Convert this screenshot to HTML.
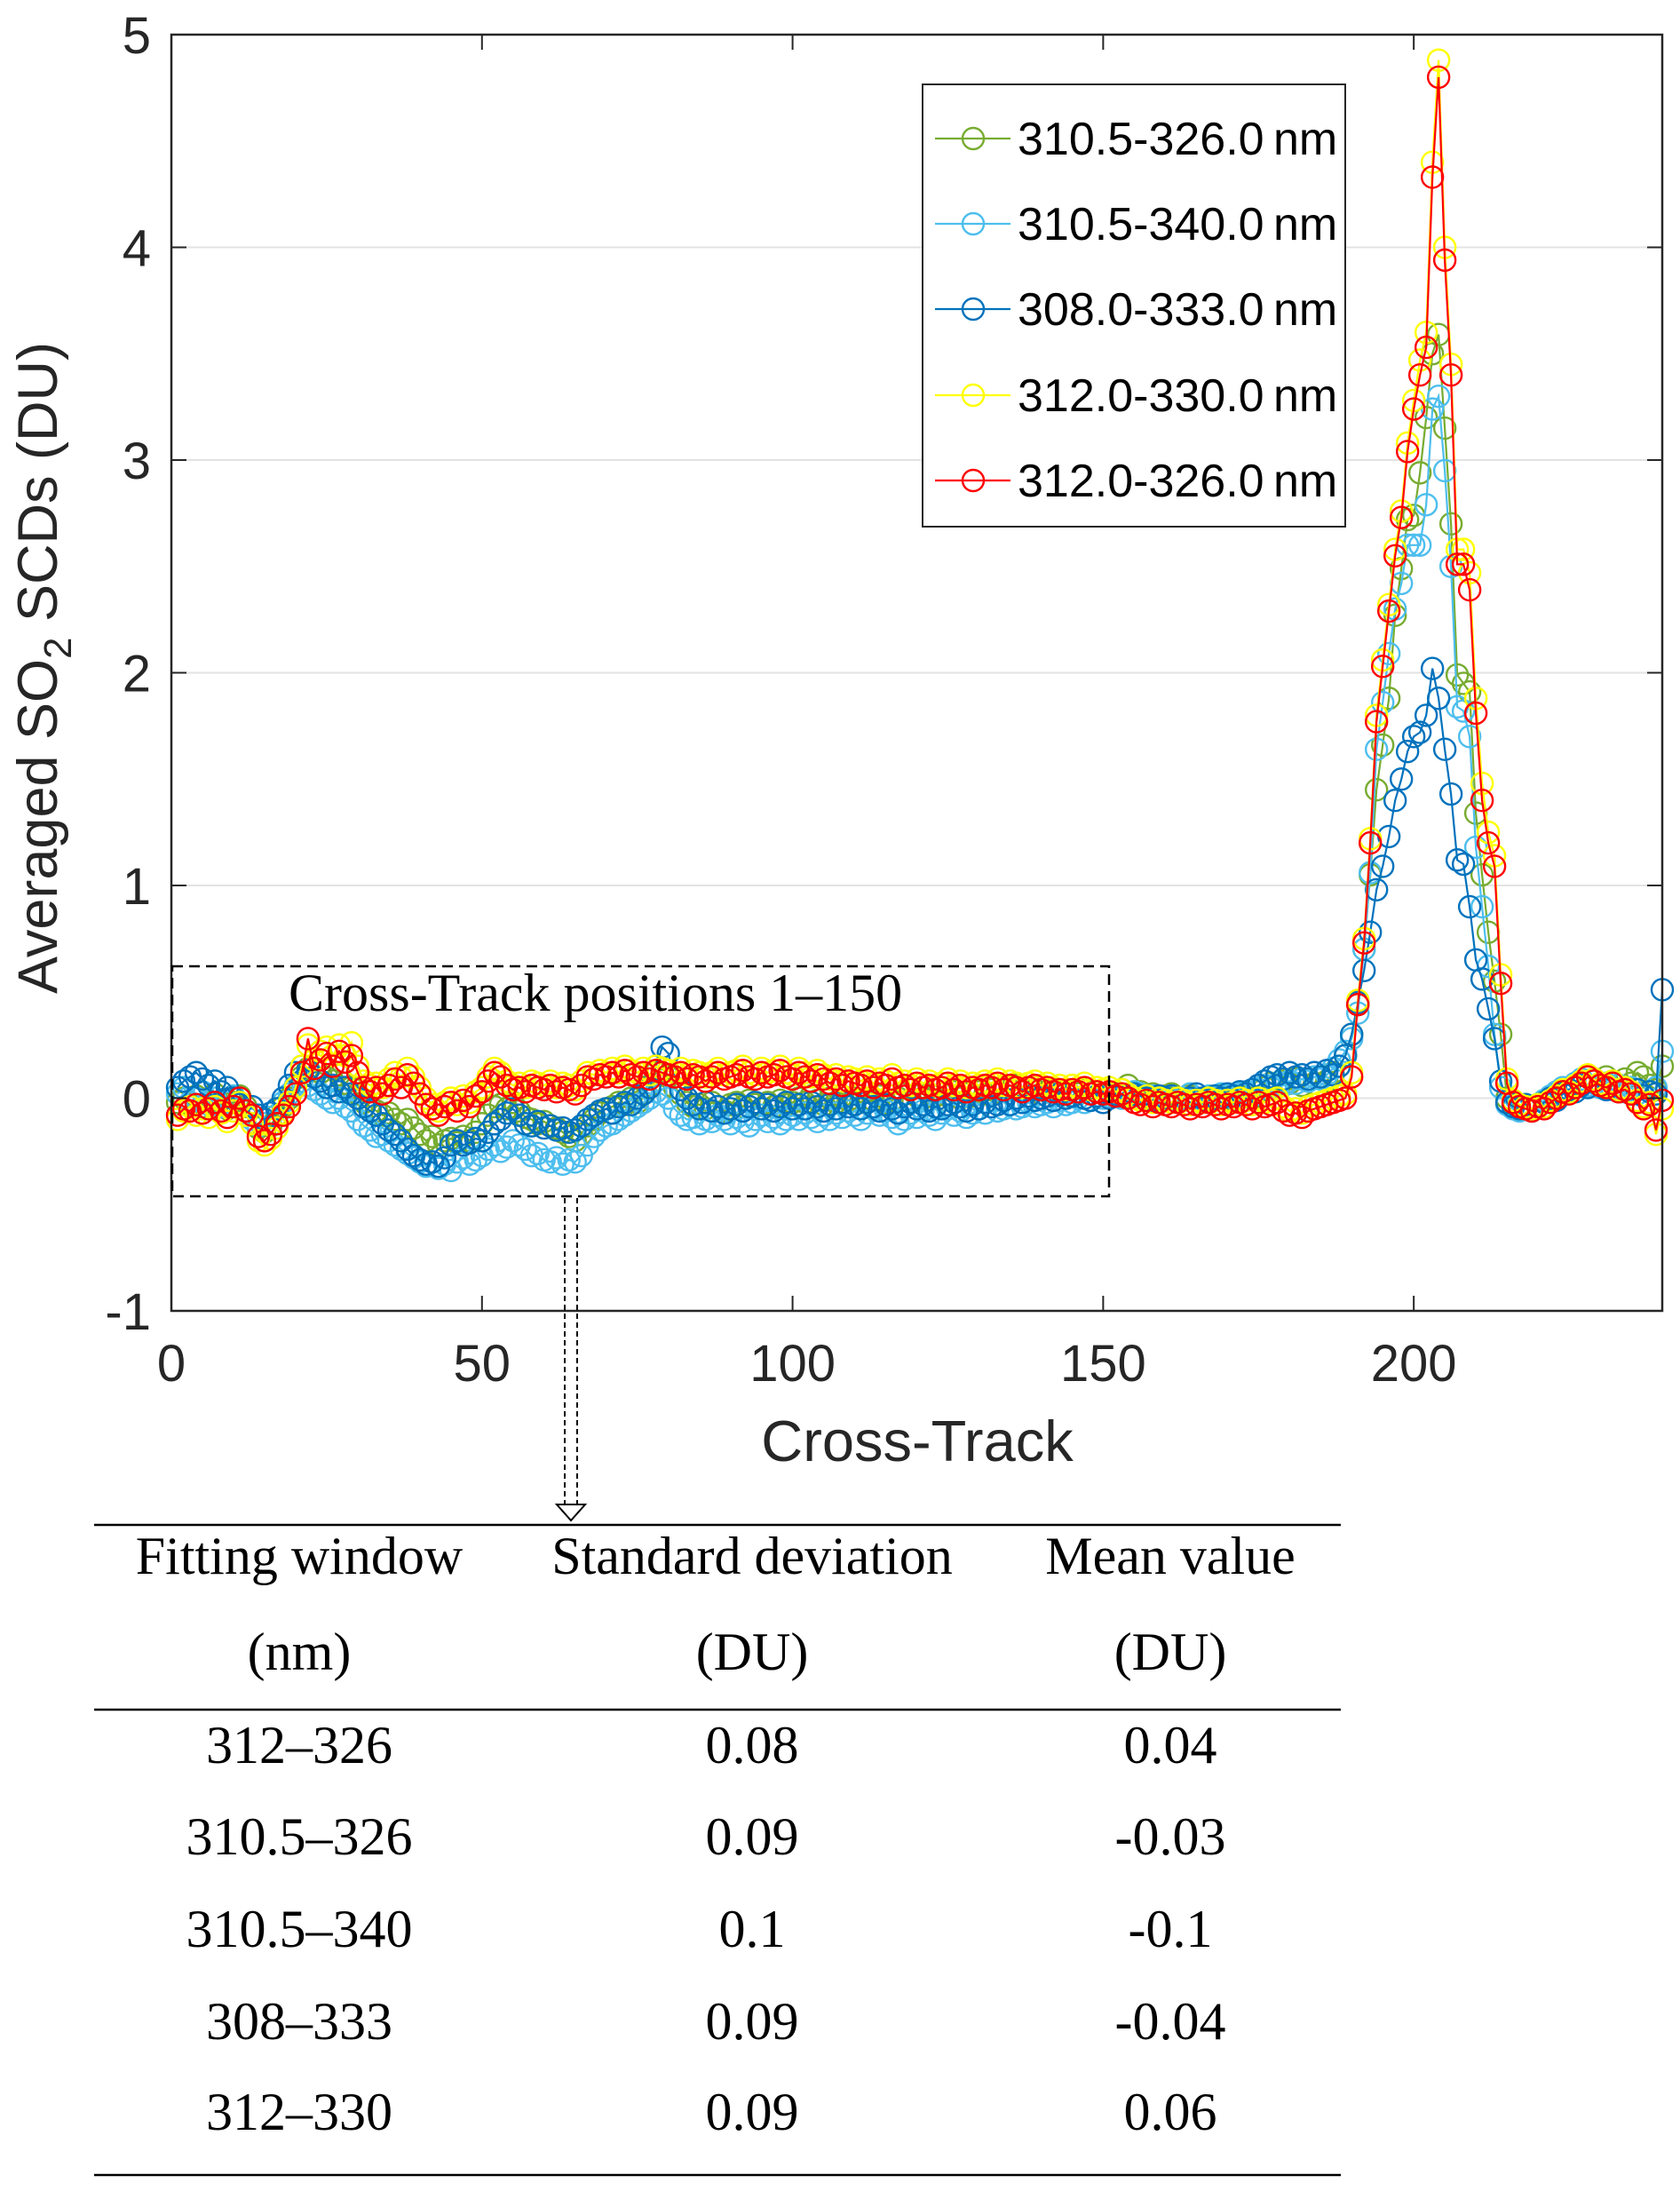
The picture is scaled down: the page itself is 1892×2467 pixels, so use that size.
<!DOCTYPE html>
<html><head><meta charset="utf-8"><style>
html,body{margin:0;padding:0;background:#fff;}
svg{display:block;}
</style></head><body>
<svg id="chart" width="1892" height="2467" viewBox="0 0 1892 2467" xmlns="http://www.w3.org/2000/svg">
<g id="grid"></g>
<g id="series"></g>
<g id="axes"></g>
<text transform="translate(64,752) rotate(-90)" text-anchor="middle" font-family="Liberation Sans, sans-serif" font-size="63" fill="#262626">Averaged SO<tspan font-size="44" dy="16">2</tspan><tspan dy="-16"> SCDs (DU)</tspan></text>
<text x="1033" y="1645" text-anchor="middle" font-family="Liberation Sans, sans-serif" font-size="65" fill="#262626">Cross-Track</text>
<g id="legend"></g>
<rect x="194" y="1088" width="1055" height="259" fill="none" stroke="#000" stroke-width="2.5" stroke-dasharray="12,7"/>
<text x="325" y="1138" font-family="Liberation Serif, serif" font-size="60" fill="#000">Cross-Track positions 1–150</text>
<g stroke="#000" stroke-width="2" fill="none">
<line x1="636" y1="1349" x2="636" y2="1694" stroke-dasharray="6,4"/>
<line x1="650" y1="1349" x2="650" y2="1694" stroke-dasharray="6,4"/>
<polygon points="627,1694 659,1694 643,1712" fill="#fff"/>
</g>
<g id="table" font-family="Liberation Serif, serif" font-size="60" fill="#000" text-anchor="middle"></g>
</svg>
<script>
const xTicks=[0,50,100,150,200];
const yTicks=[-1,0,1,2,3,4,5];
const seriesNames=["310.5-326.0\u2009nm","310.5-340.0\u2009nm","308.0-333.0\u2009nm","312.0-330.0\u2009nm","312.0-326.0\u2009nm"];
const seriesColors=["#77AC30","#4DBEEE","#0072BD","#FFFF00","#FF0000"];
const green=[-0.02,0,-0.03,0.01,-0.04,-0.02,0.02,-0.03,-0.05,-0.02,
0.01,-0.04,-0.08,-0.14,-0.16,-0.13,-0.08,-0.04,0,0.05,
0.1,0.14,0.1,0.12,0.1,0.08,0.11,0.07,0.05,0.02,
-0.02,-0.04,-0.06,-0.08,-0.07,-0.1,-0.12,-0.1,-0.14,-0.17,
-0.2,-0.18,-0.22,-0.2,-0.19,-0.21,-0.18,-0.2,-0.16,-0.12,
-0.08,-0.04,-0.03,-0.05,-0.02,-0.06,-0.09,-0.1,-0.12,-0.11,
-0.13,-0.14,-0.16,-0.18,-0.2,-0.17,-0.13,-0.1,-0.07,-0.05,
-0.04,-0.02,-0.03,0,-0.02,0.03,0.06,0.12,0.14,0.1,
0.05,0.02,-0.02,-0.04,-0.03,-0.05,-0.02,-0.04,-0.06,-0.03,
-0.02,-0.04,-0.01,-0.03,-0.05,-0.02,-0.04,-0.01,-0.03,-0.02,
0,-0.02,0.01,-0.01,-0.03,0,-0.02,0.01,-0.01,0,
-0.02,0,-0.01,0.01,-0.02,-0.01,0,0.02,-0.01,0.01,
0,0.02,0.01,-0.01,0.01,0.03,0,0.02,0.01,0.03,
0.02,0.04,0.03,0.05,0.04,0.06,0.03,0.05,0.04,0.02,
0.03,0.04,0.02,0.03,0.01,0.02,0.04,0.02,0.01,0.02,
0.02,0.03,0.04,0.06,0.02,0.03,0.01,0.02,0,0.01,
0.02,0,-0.01,0.01,0,-0.02,0,-0.01,0.01,0,
-0.01,0.01,0.02,0,0.03,0.05,0.07,0.06,0.08,0.07,
0.09,0.06,0.08,0.07,0.1,0.08,0.12,0.15,0.2,0.3,
0.44,0.7,1.05,1.45,1.66,1.88,2.27,2.49,2.72,2.74,
2.94,3.2,3.5,3.59,3.15,2.7,1.99,1.95,1.91,1.34,
1.05,0.78,0.55,0.3,0,-0.03,-0.05,-0.04,-0.06,-0.03,
-0.02,0,0.02,0.04,0.03,0.06,0.08,0.1,0.09,0.07,
0.1,0.08,0.06,0.09,0.07,0.12,0.1,0.06,0.04,0.15];
const lightBlue=[0.02,0.05,-0.02,0,0.03,-0.03,0,-0.04,-0.02,0.01,
-0.03,-0.06,-0.1,-0.13,-0.12,-0.09,-0.05,-0.02,0.02,0.06,
0.08,0.06,0.04,0.02,0,-0.02,0,-0.04,-0.06,-0.1,
-0.13,-0.15,-0.18,-0.17,-0.2,-0.22,-0.24,-0.26,-0.28,-0.3,
-0.32,-0.3,-0.33,-0.31,-0.34,-0.3,-0.28,-0.31,-0.29,-0.27,
-0.24,-0.22,-0.25,-0.23,-0.2,-0.22,-0.24,-0.27,-0.26,-0.29,
-0.3,-0.28,-0.31,-0.29,-0.3,-0.27,-0.22,-0.18,-0.15,-0.13,
-0.12,-0.1,-0.08,-0.06,-0.04,-0.02,0,0.03,0.02,0,
-0.05,-0.08,-0.1,-0.09,-0.12,-0.1,-0.11,-0.08,-0.1,-0.12,
-0.09,-0.11,-0.13,-0.1,-0.08,-0.11,-0.09,-0.12,-0.1,-0.08,
-0.1,-0.07,-0.09,-0.11,-0.08,-0.1,-0.07,-0.09,-0.06,-0.08,
-0.1,-0.07,-0.05,-0.08,-0.06,-0.09,-0.12,-0.1,-0.07,-0.09,
-0.06,-0.08,-0.1,-0.07,-0.05,-0.08,-0.06,-0.09,-0.07,-0.05,
-0.07,-0.04,-0.06,-0.05,-0.03,-0.05,-0.04,-0.02,-0.04,-0.03,
-0.02,-0.04,-0.01,-0.03,-0.02,0,-0.02,-0.01,0.01,0,
0.01,0.02,0,0.01,0.03,0.02,0,0.01,-0.01,0,
0.01,-0.01,0,0.02,0,-0.01,0.01,0,0.02,0.01,
0,0.02,0.03,0.01,0.04,0.06,0.05,0.07,0.06,0.08,
0.07,0.09,0.08,0.1,0.09,0.11,0.14,0.18,0.22,0.28,
0.4,0.7,1.06,1.64,1.86,2.09,2.3,2.42,2.6,2.6,
2.6,2.79,3.24,3.3,2.95,2.5,1.84,1.82,1.7,1.18,
0.9,0.62,0.3,0.05,-0.03,-0.05,-0.06,-0.04,-0.05,-0.03,
-0.01,0.01,0.03,0.05,0.04,0.07,0.09,0.06,0.08,0.05,
0.07,0.04,0.06,0.03,0.05,0.02,0.01,0.03,0.05,0.22];
const darkBlue=[0.05,0.08,0.1,0.12,0.09,0.06,0.08,0.03,0.05,0,
-0.03,-0.06,-0.04,-0.08,-0.1,-0.07,-0.05,0,0.06,0.12,
0.15,0.13,0.1,0.08,0.05,0.06,0.03,0.05,0.02,0,
-0.04,-0.06,-0.08,-0.12,-0.15,-0.17,-0.2,-0.24,-0.27,-0.29,
-0.31,-0.3,-0.32,-0.28,-0.22,-0.2,-0.22,-0.21,-0.19,-0.2,
-0.16,-0.12,-0.1,-0.07,-0.05,-0.08,-0.12,-0.13,-0.11,-0.14,
-0.13,-0.15,-0.14,-0.16,-0.15,-0.13,-0.1,-0.08,-0.06,-0.05,
-0.07,-0.04,-0.02,-0.03,0,0.02,0.05,0.15,0.24,0.21,
0.1,0.04,0,-0.03,-0.05,-0.02,-0.06,-0.04,-0.07,-0.05,
-0.03,-0.06,-0.04,-0.02,-0.05,-0.03,-0.06,-0.04,-0.02,-0.05,
-0.03,-0.05,-0.02,-0.04,-0.06,-0.03,-0.05,-0.02,-0.04,-0.03,
-0.05,-0.02,-0.04,-0.06,-0.03,-0.05,-0.07,-0.04,-0.02,-0.05,
-0.03,-0.06,-0.04,-0.05,-0.03,-0.02,-0.04,-0.06,-0.03,-0.05,
-0.02,-0.04,-0.03,-0.01,-0.03,0,-0.02,0.01,-0.01,0,
0.01,-0.01,0.02,0,0.01,0.03,0,-0.01,0.01,-0.02,
0,0.02,0.01,0,0.02,0.01,0,-0.01,0.01,0,
0.01,0,-0.01,0,0.02,0,-0.01,0.01,0,0.02,
0.01,0.03,0.02,0.04,0.06,0.08,0.1,0.11,0.09,0.12,
0.1,0.11,0.09,0.12,0.1,0.13,0.11,0.15,0.2,0.3,
0.45,0.6,0.78,0.98,1.09,1.23,1.4,1.5,1.63,1.7,
1.72,1.8,2.02,1.88,1.64,1.43,1.12,1.1,0.9,0.65,
0.56,0.42,0.28,0.08,-0.02,-0.04,-0.05,-0.03,-0.06,-0.04,
-0.02,0,-0.01,0.02,0.04,0.03,0.06,0.05,0.08,0.06,
0.04,0.07,0.03,0.05,0.02,0.04,0.01,0.03,0.02,0.51];
const yellow=[-0.1,-0.06,-0.04,-0.08,-0.05,-0.09,-0.04,-0.07,-0.11,-0.06,
-0.02,-0.08,-0.12,-0.2,-0.22,-0.19,-0.14,-0.07,-0.02,0.05,
0.15,0.25,0.18,0.22,0.24,0.2,0.25,0.2,0.26,0.15,
0.08,0.06,0.07,0.05,0.09,0.12,0.1,0.14,0.1,0.05,
0,-0.03,-0.06,-0.02,0,-0.03,0.01,-0.02,0.03,0.05,
0.1,0.14,0.12,0.08,0.06,0.07,0.05,0.08,0.07,0.06,
0.08,0.05,0.07,0.06,0.04,0.08,0.12,0.11,0.13,0.12,
0.14,0.12,0.15,0.13,0.12,0.14,0.11,0.15,0.14,0.13,
0.12,0.14,0.11,0.13,0.12,0.1,0.12,0.14,0.11,0.12,
0.13,0.15,0.12,0.11,0.14,0.12,0.13,0.15,0.12,0.11,
0.14,0.12,0.1,0.13,0.11,0.09,0.11,0.08,0.1,0.09,
0.08,0.1,0.07,0.09,0.08,0.11,0.07,0.08,0.06,0.09,
0.07,0.08,0.06,0.07,0.09,0.06,0.08,0.05,0.07,0.06,
0.08,0.07,0.09,0.06,0.08,0.07,0.05,0.07,0.08,0.06,
0.07,0.05,0.06,0.04,0.06,0.05,0.07,0.04,0.05,0.04,
0.05,0.03,0.04,0.02,0,-0.01,0.01,-0.02,0,-0.01,
-0.02,0,-0.01,-0.03,-0.01,-0.02,0,-0.01,-0.03,-0.01,
-0.02,0,-0.01,-0.03,0,-0.02,-0.01,0,-0.04,-0.06,
-0.05,-0.07,-0.04,-0.03,-0.02,-0.01,0,0.01,0.02,0.12,
0.46,0.75,1.22,1.8,2.06,2.32,2.58,2.76,3.08,3.28,
3.47,3.6,4.4,4.88,4.0,3.45,2.58,2.58,2.47,1.88,
1.48,1.25,1.14,0.58,0.09,-0.01,-0.03,-0.04,-0.05,-0.03,
-0.04,-0.01,0.01,0.04,0.03,0.06,0.08,0.11,0.09,0.07,
0.06,0.08,0.04,0.05,0.03,-0.01,-0.04,-0.02,-0.17,-0.05];
const red=[-0.08,-0.05,-0.06,-0.03,-0.07,-0.05,-0.02,-0.06,-0.09,-0.04,
0,-0.06,-0.08,-0.18,-0.2,-0.17,-0.12,-0.08,-0.04,0.02,
0.12,0.28,0.14,0.18,0.21,0.15,0.22,0.17,0.2,0.12,
0.05,0.03,0.05,0.02,0.06,0.09,0.05,0.11,0.07,0.02,
-0.03,-0.05,-0.08,-0.04,-0.02,-0.06,-0.01,-0.04,0.01,0.03,
0.08,0.12,0.1,0.06,0.04,0.05,0.03,0.06,0.05,0.04,
0.06,0.03,0.05,0.04,0.02,0.06,0.1,0.09,0.11,0.1,
0.12,0.1,0.13,0.11,0.1,0.12,0.09,0.13,0.12,0.11,
0.1,0.12,0.09,0.11,0.1,0.08,0.1,0.12,0.09,0.1,
0.11,0.13,0.1,0.09,0.12,0.1,0.11,0.13,0.1,0.09,
0.12,0.1,0.08,0.11,0.09,0.07,0.09,0.06,0.08,0.07,
0.06,0.08,0.05,0.07,0.06,0.09,0.05,0.06,0.04,0.07,
0.05,0.06,0.04,0.05,0.07,0.04,0.06,0.03,0.05,0.04,
0.06,0.05,0.07,0.04,0.06,0.05,0.03,0.05,0.06,0.04,
0.05,0.03,0.04,0.02,0.04,0.03,0.05,0.02,0.03,0.02,
0.03,0.01,0.02,0,-0.02,-0.03,-0.01,-0.04,-0.02,-0.03,
-0.04,-0.02,-0.03,-0.05,-0.03,-0.04,-0.02,-0.03,-0.05,-0.03,
-0.04,-0.02,-0.03,-0.05,-0.02,-0.04,-0.03,-0.02,-0.06,-0.08,
-0.07,-0.09,-0.06,-0.05,-0.04,-0.03,-0.02,-0.01,0,0.1,
0.44,0.73,1.2,1.77,2.03,2.29,2.55,2.73,3.04,3.24,
3.4,3.53,4.33,4.8,3.94,3.4,2.51,2.51,2.39,1.81,
1.4,1.2,1.09,0.54,0.07,-0.02,-0.04,-0.05,-0.06,-0.04,
-0.05,-0.02,0,0.03,0.02,0.05,0.07,0.1,0.08,0.06,
0.05,0.07,0.03,0.04,0.02,-0.02,-0.05,-0.03,-0.15,-0.01];
const tableHeader1=["Fitting window","Standard deviation","Mean value"];
const tableHeader2=["(nm)","(DU)","(DU)"];
const tableWindows=["312–326","310.5–326","310.5–340","308–333","312–330"];
const tableStd=["0.08","0.09","0.1","0.09","0.09"];
const tableMean=["0.04","-0.03","-0.1","-0.04","0.06"];

const NS="http://www.w3.org/2000/svg";
const L=193,R=1872,T=39,B=1476,XMIN=0,XMAX=240,YMIN=-1,YMAX=5;
function sx(v){return L+(v-XMIN)/(XMAX-XMIN)*(R-L);}
function sy(v){return B-(v-YMIN)/(YMAX-YMIN)*(B-T);}
function mk(tag,attrs,parent){const e=document.createElementNS(NS,tag);for(const k in attrs)e.setAttribute(k,attrs[k]);parent.appendChild(e);return e;}
const grid=document.getElementById('grid'),axes=document.getElementById('axes'),ser=document.getElementById('series'),leg=document.getElementById('legend'),tbl=document.getElementById('table');
yTicks.forEach(v=>{
  if(v>YMIN&&v<YMAX){const g=mk('line',{x1:L,x2:R,y1:sy(v),y2:sy(v),stroke:'#e3e3e3','stroke-width':2},grid);
  
  }
  const t1=mk('line',{x1:L,x2:L+17,y1:sy(v),y2:sy(v),stroke:'#262626','stroke-width':2},axes);
  
  
  const t2=mk('line',{x1:R-17,x2:R,y1:sy(v),y2:sy(v),stroke:'#262626','stroke-width':2},axes);
  
  
  const lb=mk('text',{x:170,y:sy(v)+21,'text-anchor':'end','font-family':'Liberation Sans, sans-serif','font-size':58,fill:'#262626'},axes);
  lb.textContent=String(v);
  
  
});
xTicks.forEach(v=>{
  const t1=mk('line',{x1:sx(v),x2:sx(v),y1:B,y2:B-17,stroke:'#262626','stroke-width':2},axes);
  
  
  const t2=mk('line',{x1:sx(v),x2:sx(v),y1:T,y2:T+17,stroke:'#262626','stroke-width':2},axes);
  
  
  const lb=mk('text',{x:sx(v),y:1555,'text-anchor':'middle','font-family':'Liberation Sans, sans-serif','font-size':58,fill:'#262626'},axes);
  lb.textContent=String(v);
  
  
});
const frame=mk('rect',{x:L,y:T,width:R-L,height:B-T,fill:'none',stroke:'#262626','stroke-width':2.5},axes);


const allSeries=[green,lightBlue,darkBlue,yellow,red];
allSeries.forEach((arr,si)=>{
  const g=mk('g',{},ser);
  
  
  const pts=arr.map((v,i)=>sx(i+1).toFixed(1)+','+sy(v).toFixed(1)).join(' ');
  const pl=mk('polyline',{points:pts,fill:'none',stroke:seriesColors[si],'stroke-width':2.2},g);
  
  
  arr.forEach((v,i)=>{
    const c=mk('circle',{cx:sx(i+1),cy:sy(v),r:12,fill:'none',stroke:seriesColors[si],'stroke-width':2.4},g);
    
    
  });
});
const lb=mk('rect',{x:1039,y:95,width:476,height:498,fill:'#fff',stroke:'#262626','stroke-width':2},leg);


const legY=[156,252,348,445,541];
seriesNames.forEach((n,i)=>{
  const g=mk('g',{},leg);
  
  
  mk('line',{x1:1053,x2:1138,y1:legY[i],y2:legY[i],stroke:seriesColors[i],'stroke-width':2.2},g);
  mk('circle',{cx:1096,cy:legY[i],r:12,fill:'none',stroke:seriesColors[i],'stroke-width':2.4},g);
  const t=mk('text',{x:1146,y:legY[i]+18,'font-family':'Liberation Sans, sans-serif','font-size':52,fill:'#000'},g);
  t.textContent=n;
});
[[1717],[1925],[2449]].forEach(([y])=>{
  const l=mk('line',{x1:106,x2:1510,y1:y,y2:y,stroke:'#000','stroke-width':2.5},tbl);
  
  
});
const colX=[337,847,1318];
function cell(txt,x,y,name){const t=mk('text',{x:x,y:y},tbl);t.textContent=txt;
  
  }
tableHeader1.forEach((h,i)=>cell(h,colX[i],1772,'table-header'));
tableHeader2.forEach((h,i)=>cell(h,colX[i],1880,'table-header-unit'));
const rowY=[1985,2088,2192,2296,2398];
tableWindows.forEach((w,i)=>{cell(w,colX[0],rowY[i],'table-cell-window');cell(tableStd[i],colX[1],rowY[i],'table-cell-std');cell(tableMean[i],colX[2],rowY[i],'table-cell-mean');});
</script>
</body></html>
